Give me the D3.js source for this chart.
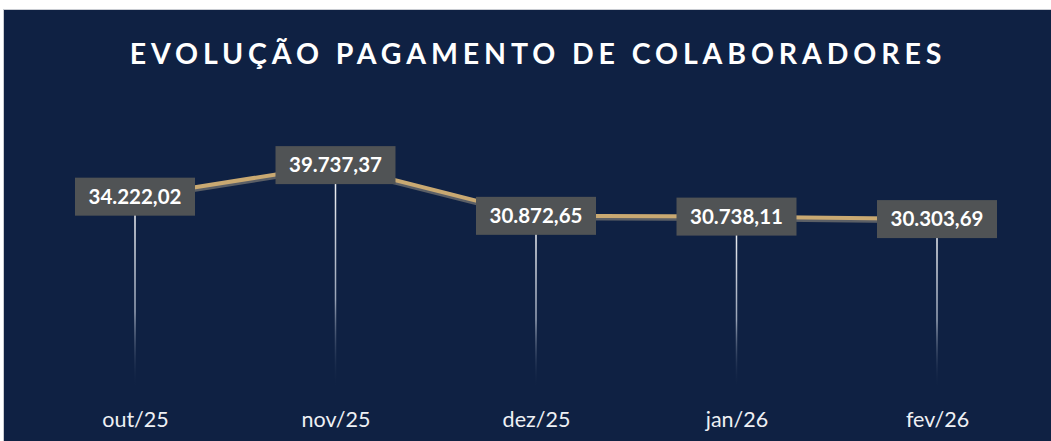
<!DOCTYPE html>
<html><head><meta charset="utf-8">
<script src="https://cdn.jsdelivr.net/npm/d3@7"></script>
<style>
html,body{margin:0;padding:0;background:#fff;}
svg{display:block;}
</style></head>
<body>
<svg id="chart" width="1051" height="441"></svg>
<script>
const title = "EVOLUÇÃO PAGAMENTO DE COLABORADORES";
const categories = ["out/25","nov/25","dez/25","jan/26","fev/26"];
const values = [34222.02, 39737.37, 30872.65, 30738.11, 30303.69];
const valueLabels = ["34.222,02","39.737,37","30.872,65","30.738,11","30.303,69"];

const W = 1051, H = 441;
const svg = d3.select("#chart");
const defs = svg.append("defs");

// panel
svg.append("rect").attr("x",3).attr("y",9).attr("width",W-3).attr("height",H-9).attr("fill","#c9ccd2");
svg.append("rect").attr("x",4).attr("y",10).attr("width",W-4).attr("height",H-10).attr("fill","#0f2143");

svg.append("text").attr("x",538).attr("y",64).attr("text-anchor","middle")
  .attr("fill","#ffffff").attr("font-family","Lato, 'Open Sans', sans-serif").attr("font-weight","bold")
  .attr("font-size",28.5).attr("letter-spacing",4.9).text(title);

const x = d3.scalePoint().domain(categories).range([135,937]);
const y = d3.scaleLinear().domain([0,45000]).range([392.5,135]);

const grad = defs.append("linearGradient").attr("id","drop").attr("x1",0).attr("y1",0).attr("x2",0).attr("y2",1);
grad.append("stop").attr("offset","0%").attr("stop-color","#ffffff").attr("stop-opacity",1);
grad.append("stop").attr("offset","60%").attr("stop-color","#c8d0de").attr("stop-opacity",0.75);
grad.append("stop").attr("offset","100%").attr("stop-color","#0f2143").attr("stop-opacity",0);

const pts = categories.map((c,i)=>({c, v:values[i], l:valueLabels[i]}));

// drop lines
svg.append("g").selectAll("rect").data(pts).join("rect")
  .attr("x",d=>x(d.c)-0.75).attr("width",1.5)
  .attr("y",d=>y(d.v)).attr("height",d=>y(0)-4-y(d.v))
  .attr("fill","url(#drop)");

const line = d3.line().x(d=>x(d.c)).y(d=>y(d.v));
svg.append("path").datum(pts).attr("d",line).attr("fill","none")
  .attr("stroke","#5b5f66").attr("stroke-width",4).attr("transform","translate(0,2.5)");
svg.append("path").datum(pts).attr("d",line).attr("fill","none")
  .attr("stroke","#c9a972").attr("stroke-width",4);

// labels
const lg = svg.append("g").selectAll("g").data(pts).join("g")
  .attr("transform",d=>`translate(${x(d.c)},${y(d.v)})`);
lg.append("rect").attr("x",-60).attr("y",-19).attr("width",120).attr("height",38).attr("fill","#505355");
lg.append("text").attr("text-anchor","middle").attr("y",7)
  .attr("fill","#ffffff").attr("font-family","Lato, 'Open Sans', sans-serif").attr("font-weight","bold")
  .attr("font-size",20.5).text(d=>d.l);

// axis
const axis = d3.axisBottom(x).tickSize(0).tickPadding(0);
const ag = svg.append("g").attr("transform","translate(0,412)").call(axis);
ag.select(".domain").remove();
ag.selectAll("text").attr("fill","#eef0f4").attr("font-family","Lato, 'Open Sans', sans-serif")
  .attr("font-size",21.5).attr("dy","0.71em");
</script>
</body></html>
